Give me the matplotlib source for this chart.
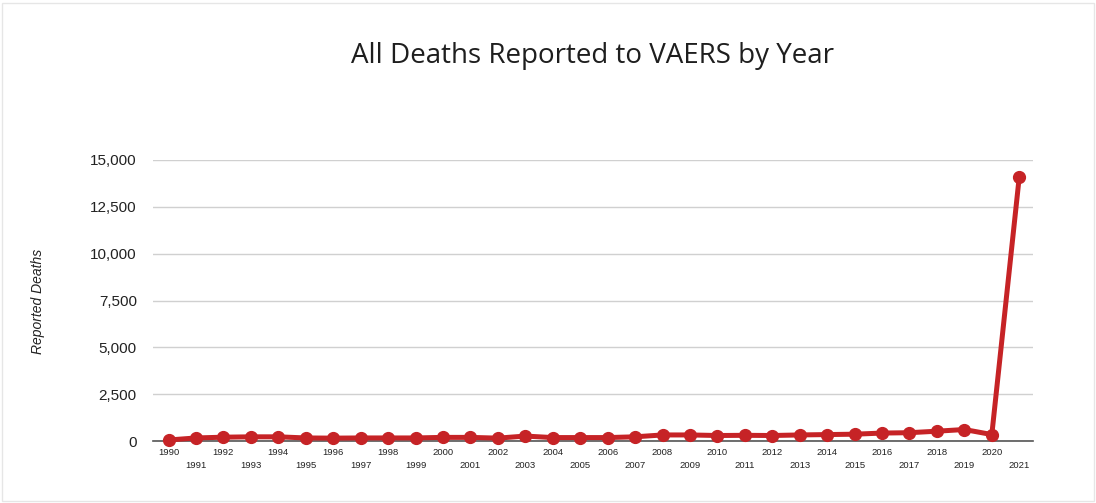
import matplotlib.pyplot as plt
from matplotlib.ticker import FuncFormatter

# data
years = list(range(1990, 2022))
deaths = [60, 170, 210, 230, 230, 170, 160, 170, 170, 170,
          200, 200, 160, 270, 190, 190, 190, 230, 330, 330,
          300, 310, 300, 330, 350, 370, 430, 450, 530, 620,
          350, 14100]
y_ticks = [0, 2500, 5000, 7500, 10000, 12500, 15000]

fig = plt.figure(figsize=(10.96, 5.03), dpi=100)
ax = fig.add_axes([0.14, 0.123, 0.8025, 0.559])

ax.plot(years, deaths, color='#c62326', linewidth=3.6, marker='o',
        markersize=8.5, solid_joinstyle='round', zorder=3, clip_on=False)

ax.set_xlim(1989.45, 2021.5)
ax.set_ylim(0, 15000)
ax.set_yticks(y_ticks)
ax.yaxis.set_major_formatter(FuncFormatter(lambda v, p: f'{int(v):,}'))
ax.grid(axis='y', color='#d0d0d0', linewidth=1)
ax.set_axisbelow(True)
for s in ['top', 'right', 'left']:
    ax.spines[s].set_visible(False)
ax.spines['bottom'].set_color('#555555')
ax.spines['bottom'].set_linewidth(1.2)

ax.set_xticks(years)
ax.set_xticklabels([str(y) if y % 2 == 0 else '\n' + str(y) for y in years],
                   fontsize=6.8, family='Liberation Sans', color='#222222',
                   linespacing=1.5)
ax.tick_params(axis='x', length=0, pad=5)
ax.tick_params(axis='y', length=0, pad=12, labelsize=11, labelcolor='#222222')
for t in ax.get_yticklabels():
    t.set_family('Liberation Sans')

fig.text(0.035, 0.40, 'Reported Deaths', rotation=90, style='italic',
         fontsize=10, family='Liberation Sans', color='#222222',
         ha='center', va='center')
fig.text(0.541, 0.888, 'All Deaths Reported to VAERS by Year',
         fontsize=20, family='Open Sans', weight='medium', color='#1e1e1e',
         ha='center', va='center')

# faint frame of the screenshot
fig.patches.append(plt.Rectangle((0.002, 0.004), 0.996, 0.99, transform=fig.transFigure,
                                 fill=False, edgecolor='#e6e6e6', linewidth=1))

fig.savefig('out.png', dpi=100)
